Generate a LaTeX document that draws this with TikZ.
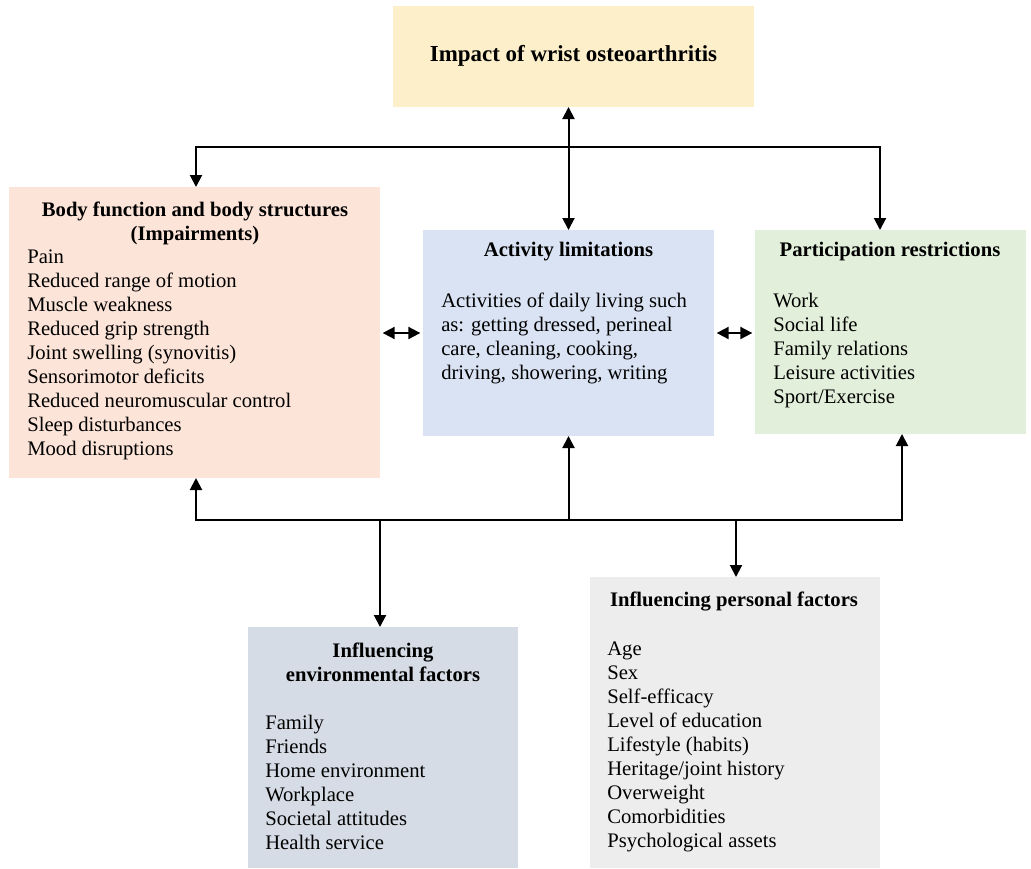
\documentclass[tikz,border=0pt]{standalone}
\usepackage{fontspec}
\setmainfont{Liberation Serif}
\usetikzlibrary{arrows.meta}
\definecolor{impactfill}{HTML}{FCEFC9}
\definecolor{bodyfill}{HTML}{FCE4D8}
\definecolor{actfill}{HTML}{DAE3F3}
\definecolor{partfill}{HTML}{E2EFDA}
\definecolor{envfill}{HTML}{D6DCE5}
\definecolor{persfill}{HTML}{EDEDED}
\begin{document}
\begin{tikzpicture}[x=0.75pt,y=-0.75pt,
  panel/.style n args={3}{fill=#1, draw=none, inner sep=0pt, outer sep=0pt,
    minimum width=#2*0.75pt, minimum height=#3*0.75pt},
  head/.style={font=\bfseries\fontsize{15.5}{18}\selectfont, align=center, inner sep=0pt},
  items/.style={font=\fontsize{15.5}{18}\selectfont, align=left, anchor=north west, inner sep=0pt},
  conn/.style={line width=1.5pt, draw=black, line join=miter},
  tip/.tip={Triangle[length=9pt,width=9pt]}
]
\useasboundingbox (0,0) rectangle (1031,868);

% coloured panels
\node[panel={impactfill}{361}{101}] (top)  at (573.5,56.5) {};
\node[panel={bodyfill}{371}{291}]   (body) at (194.5,332.5) {};
\node[panel={actfill}{291}{206}]    (act)  at (568.5,333) {};
\node[panel={partfill}{271}{204}]   (part) at (890.5,332) {};
\node[panel={envfill}{270}{241}]    (env)  at (382.5,747.5) {};
\node[panel={persfill}{290}{291}]   (pers) at (735,722.5) {};

% headings
\node[head, font=\bfseries\fontsize{17.2}{20}\selectfont] (toptitle) at (573.5,56) {Impact of wrist osteoarthritis};
\node[head] (bodytitle) at (195,223) {Body function and body structures\\(Impairments)};
\node[head] (acttitle) at (568.5,252) {Activity limitations};
\node[head] (parttitle) at (890,252) {Participation restrictions};
\node[head] (envtitle) at (383,662.5) {Influencing\\environmental factors};
\node[head] (perstitle) at (734,601) {Influencing personal factors};

% item lists
\node[items] (bodylist) at (27,250) {Pain\\Reduced range of motion\\Muscle weakness\\Reduced grip strength\\Joint swelling (synovitis)\\Sensorimotor deficits\\Reduced neuromuscular control\\Sleep disturbances\\Mood disruptions};
\node[items] (actlist) at (441,293) {Activities of daily living such\\as: getting dressed, perineal\\care, cleaning, cooking,\\driving, showering, writing};
\node[items] (partlist) at (773,293) {Work\\Social life\\Family relations\\Leisure activities\\Sport/Exercise};
\node[items] (envlist) at (265,715) {Family\\Friends\\Home environment\\Workplace\\Societal attitudes\\Health service};
\node[items] (perslist) at (607,642) {Age\\Sex\\Self-efficacy\\Level of education\\Lifestyle (habits)\\Heritage/joint history\\Overweight\\Comorbidities\\Psychological assets};

% upper connectors
\coordinate (tl) at (196,147);
\coordinate (tr) at (880,147);
\draw[conn,tip-tip] (tl |- body.north) -- (tl) -- (tr) -- (tr |- part.north);
\draw[conn,tip-tip] (act.north |- top.south) -- (act.north);
\draw[conn,tip-tip,shorten <=2pt,shorten >=2pt] (body.east |- act.west) -- (act.west);
\draw[conn,tip-tip,shorten <=2pt,shorten >=2pt] (act.east) -- (part.west |- act.east);

% lower connectors
\coordinate (bl) at (196,520);
\coordinate (br) at (902,520);
\draw[conn,tip-tip] (bl |- body.south) -- (bl) -- (br) -- (br |- part.south);
\draw[conn,-tip] (act.south |- bl) -- (act.south);
\coordinate (be) at (380,520);
\draw[conn,-tip] (be) -- (be |- env.north);
\coordinate (bp) at (736,520);
\draw[conn,-tip] (bp) -- (bp |- pers.north);
\end{tikzpicture}
\end{document}
